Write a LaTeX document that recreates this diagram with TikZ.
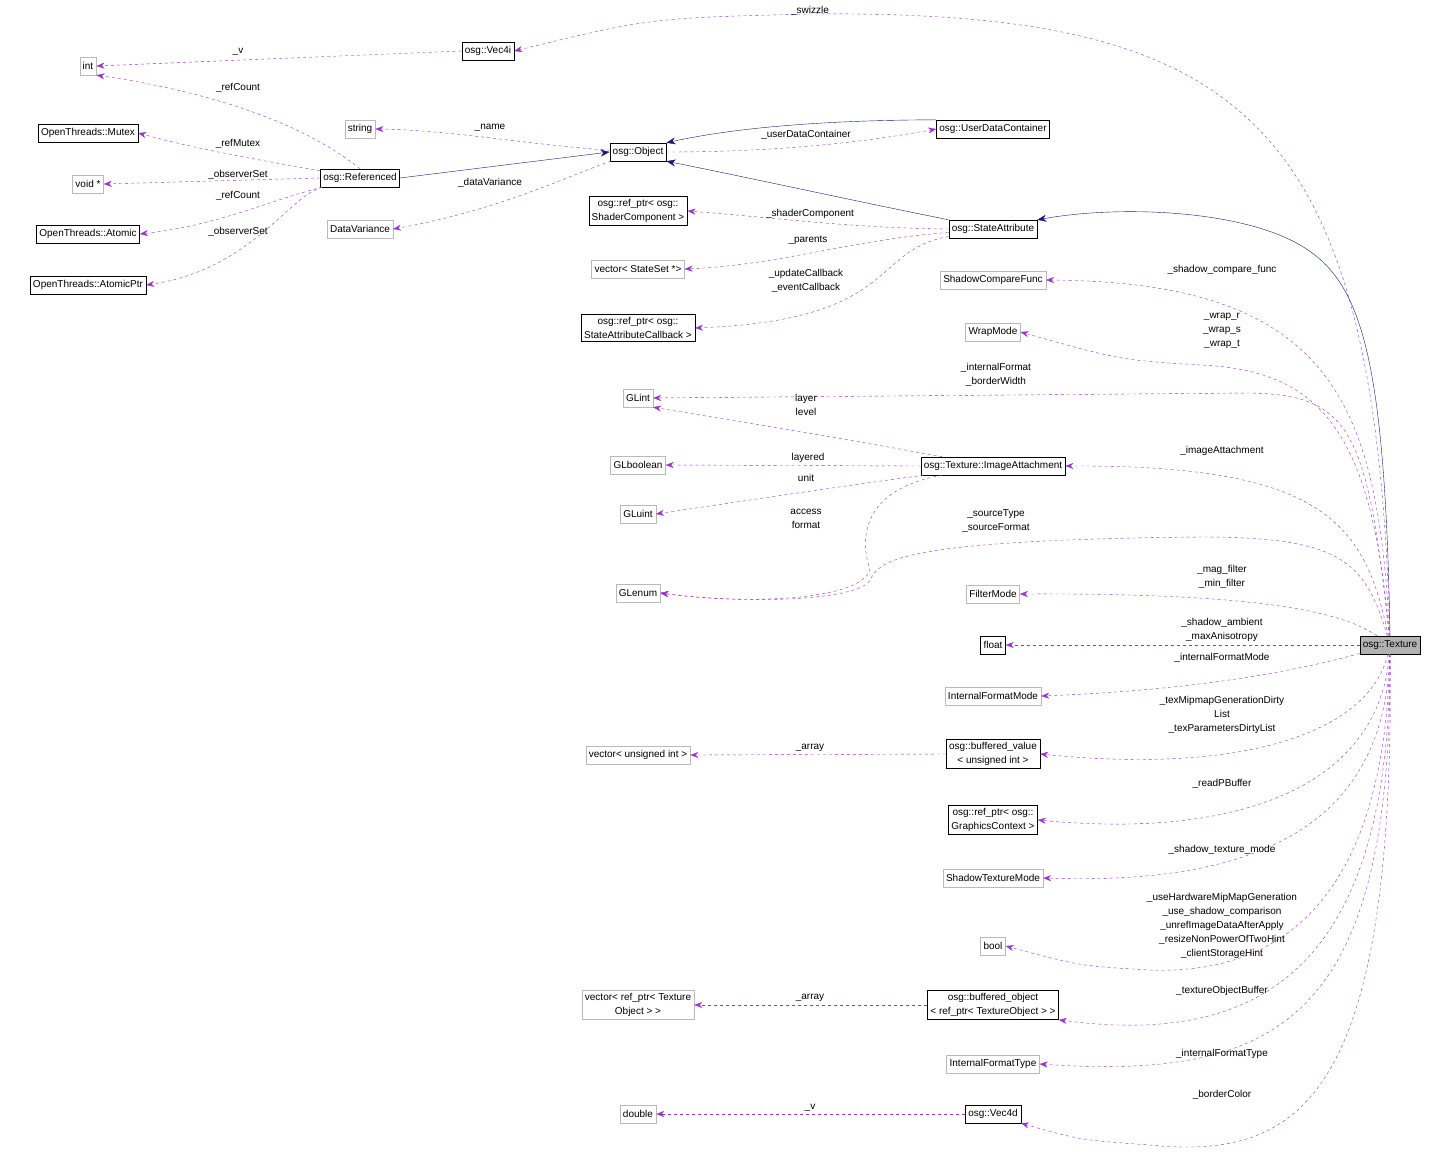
\documentclass[tikz,border=0pt]{standalone}
\usepackage{fontspec}
\setmainfont{Liberation Sans}
\usetikzlibrary{arrows.meta}
\definecolor{dox}{HTML}{9A32CD}
\definecolor{navy}{HTML}{191970}
\begin{document}
\begin{tikzpicture}[x=1pt,y=-1pt,
  every node/.style={font=\fontsize{10}{14}\selectfont},
  bb/.style={draw=black,fill=white,inner sep=3pt,align=center,minimum height=18pt},
  gb/.style={draw=gray!55,fill=white,inner sep=3pt,align=center,minimum height=18pt},
  use/.style={draw=dox,dashed,-{Stealth[length=8pt,width=6pt]}},
  inh/.style={draw=navy,-{Stealth[length=9pt,width=7pt]}},
  lab/.style={align=center,inner sep=0pt}]
\useasboundingbox (0,0) rectangle (1443,1156);
\node[gb] (int) at (88,66) {int};
\node[bb] (vec4i) at (488,51) {osg::Vec4i};
\node[bb] (mutex) at (88,133) {OpenThreads::Mutex};
\node[gb] (void) at (88,184) {void *};
\node[bb] (atomic) at (88,234) {OpenThreads::Atomic};
\node[bb] (atomicptr) at (88,285) {OpenThreads::AtomicPtr};
\node[gb] (string) at (360,129) {string};
\node[bb] (ref) at (360,178) {osg::Referenced};
\node[gb] (dv) at (360,229) {DataVariance};
\node[bb] (obj) at (638,152) {osg::Object};
\node[bb] (udc) at (993,129) {osg::UserDataContainer};
\node[bb] (sc) at (638,211) {osg::ref\_ptr< osg::\\ShaderComponent >};
\node[bb] (sa) at (993,229) {osg::StateAttribute};
\node[gb] (vss) at (638,269) {vector< StateSet *>};
\node[bb] (sacb) at (638,328) {osg::ref\_ptr< osg::\\StateAttributeCallback >};
\node[gb] (scf) at (993,280) {ShadowCompareFunc};
\node[gb] (wrap) at (993,332) {WrapMode};
\node[gb] (glint) at (638,398) {GLint};
\node[bb] (ia) at (993,466) {osg::Texture::ImageAttachment};
\node[gb] (glbool) at (638,465) {GLboolean};
\node[gb] (gluint) at (638,514) {GLuint};
\node[gb] (glenum) at (638,593) {GLenum};
\node[gb] (fm) at (993,594) {FilterMode};
\node[bb] (float) at (993,645) {float};
\node[bb,fill=gray!60] (tex) at (1390,645) {osg::Texture};
\node[gb] (ifm) at (993,696) {InternalFormatMode};
\node[bb] (bv) at (993,754) {osg::buffered\_value\\< unsigned int >};
\node[gb] (vui) at (638,755) {vector< unsigned int >};
\node[bb] (gc) at (993,820) {osg::ref\_ptr< osg::\\GraphicsContext >};
\node[gb] (stm) at (993,878) {ShadowTextureMode};
\node[gb] (bool) at (993,946) {bool};
\node[gb] (vref) at (638,1005) {vector< ref\_ptr< Texture\\Object > >};
\node[bb] (bo) at (993,1005) {osg::buffered\_object\\< ref\_ptr< TextureObject > >};
\node[gb] (ift) at (993,1064) {InternalFormatType};
\node[gb] (double) at (638,1114) {double};
\node[bb] (vec4d) at (993,1114) {osg::Vec4d};
% inheritance
\draw[inh] (ref.east) -- (obj.west);
\draw[inh] (udc.north west) .. controls (880,120) and (760,122) .. (obj.north east);
\draw[inh] (sa.north west) .. controls (850,200) and (760,180) .. (obj.south east);
\draw[inh] (tex.north) .. controls (1385,350) and (1360,280) .. (1300,245) .. controls (1240,210) and (1120,205) .. (sa.north east);
% usage
\draw[use] (tex.north) .. controls (1375,120) and (1250,10) .. (810,14) .. controls (650,18) .. (vec4i.east);
\draw[use] (vec4i.west) -- (int.east);
\draw[use] (ref.north) .. controls (300,120) and (200,90) .. (int.south east);
\draw[use] (ref) .. controls (260,160) and (200,150) .. (mutex.east);
\draw[use] (ref.west) -- (void.east);
\draw[use] (ref) .. controls (270,200) and (220,225) .. (atomic.east);
\draw[use] (ref) .. controls (290,195) and (250,270) .. (atomicptr.east);
\draw[use] (obj) .. controls (530,145) and (450,130) .. (string.east);
\draw[use] (obj) .. controls (570,175) and (500,210) .. (dv.east);
\draw[use] (obj.east) .. controls (760,152) and (850,145) .. (udc.west);
\draw[use] (sa.west) .. controls (850,228) and (780,218) .. (sc.east);
\draw[use] (sa) .. controls (850,240) and (780,265) .. (vss.east);
\draw[use] (sa) .. controls (870,250) and (900,320) .. (sacb.east);
\draw[use] (tex) .. controls (1378,400) and (1330,282) .. (scf.east);
\draw[use] (tex) .. controls (1372,430) and (1320,370) .. (1200,365) .. controls (1120,360) .. (wrap.east);
\draw[use] (tex) .. controls (1368,430) and (1350,395) .. (1250,393) -- (glint.east);
\draw[use] (ia) .. controls (850,440) .. (glint.south east);
\draw[use] (ia.west) -- (glbool.east);
\draw[use] (ia) .. controls (850,485) and (750,500) .. (gluint.east);
\draw[use] (ia) .. controls (860,490) and (860,540) .. (870,570) .. controls (860,600) and (750,605) .. (glenum.east);
\draw[use] (tex) .. controls (1365,520) and (1320,465) .. (ia.east);
\draw[use] (tex) .. controls (1365,560) and (1340,537) .. (1200,537) .. controls (900,540) and (880,560) .. (870,580) .. controls (860,600) and (750,605) .. (glenum.east);
\draw[use] (tex) .. controls (1340,610) and (1250,593) .. (fm.east);
\draw[use] (tex.west) -- (float.east);
\draw[use] (tex) .. controls (1300,670) and (1200,690) .. (ifm.east);
\draw[use] (tex) .. controls (1370,730) and (1250,775) .. (bv.east);
\draw[use] (bv.west) -- (vui.east);
\draw[use] (tex) .. controls (1380,780) and (1250,840) .. (gc.east);
\draw[use] (tex) .. controls (1385,830) and (1250,885) .. (stm.east);
\draw[use] (tex) .. controls (1385,900) and (1280,975) .. (1150,970) .. controls (1080,966) .. (bool.east);
\draw[use] (tex) .. controls (1390,980) and (1250,1045) .. (bo.south east);
\draw[use] (bo.west) -- (vref.east);
\draw[use] (tex) .. controls (1392,1020) and (1280,1080) .. (ift.east);
\draw[use] (tex) .. controls (1395,1100) and (1300,1160) .. (1150,1145) .. controls (1080,1140) .. (vec4d.south east);
\draw[use] (vec4d.west) -- (double.east);
% labels
\node[lab] (l1) at (810,11) {\_swizzle};
\node[lab] (l2) at (238,52) {\_v};
\node[lab] (l3) at (238,88) {\_refCount};
\node[lab] (l4) at (238,144) {\_refMutex};
\node[lab] (l5) at (238,175) {\_observerSet};
\node[lab] (l6) at (238,196) {\_refCount};
\node[lab] (l7) at (238,232) {\_observerSet};
\node[lab] (l8) at (490,128) {\_name};
\node[lab] (l9) at (490,183) {\_dataVariance};
\node[lab] (l10) at (806,135) {\_userDataContainer};
\node[lab] (l11) at (810,214) {\_shaderComponent};
\node[lab] (l12) at (808,240) {\_parents};
\node[lab] (l13) at (806,281) {\_updateCallback\\\_eventCallback};
\node[lab] (l14) at (1222,270) {\_shadow\_compare\_func};
\node[lab] (l15) at (1222,331) {\_wrap\_r\\\_wrap\_s\\\_wrap\_t};
\node[lab] (l16) at (996,375) {\_internalFormat\\\_borderWidth};
\node[lab] (l17) at (806,405) {layer\\level};
\node[lab] (l18) at (808,458) {layered};
\node[lab] (l19) at (806,478) {unit};
\node[lab] (l20) at (806,519) {access\\format};
\node[lab] (l21) at (1222,451) {\_imageAttachment};
\node[lab] (l22) at (996,521) {\_sourceType\\\_sourceFormat};
\node[lab] (l23) at (1222,577) {\_mag\_filter\\\_min\_filter};
\node[lab] (l24) at (1222,630) {\_shadow\_ambient\\\_maxAnisotropy};
\node[lab] (l25) at (1222,658) {\_internalFormatMode};
\node[lab] (l26) at (1222,715) {\_texMipmapGenerationDirty\\List\\\_texParametersDirtyList};
\node[lab] (l27) at (810,748) {\_array};
\node[lab] (l28) at (1222,784) {\_readPBuffer};
\node[lab] (l29) at (1222,850) {\_shadow\_texture\_mode};
\node[lab] (l30) at (1222,926) {\_useHardwareMipMapGeneration\\\_use\_shadow\_comparison\\\_unrefImageDataAfterApply\\\_resizeNonPowerOfTwoHint\\\_clientStorageHint};
\node[lab] (l31) at (810,998) {\_array};
\node[lab] (l32) at (1222,991) {\_textureObjectBuffer};
\node[lab] (l33) at (1222,1054) {\_internalFormatType};
\node[lab] (l34) at (810,1108) {\_v};
\node[lab] (l35) at (1222,1095) {\_borderColor};
\end{tikzpicture}
\end{document}
